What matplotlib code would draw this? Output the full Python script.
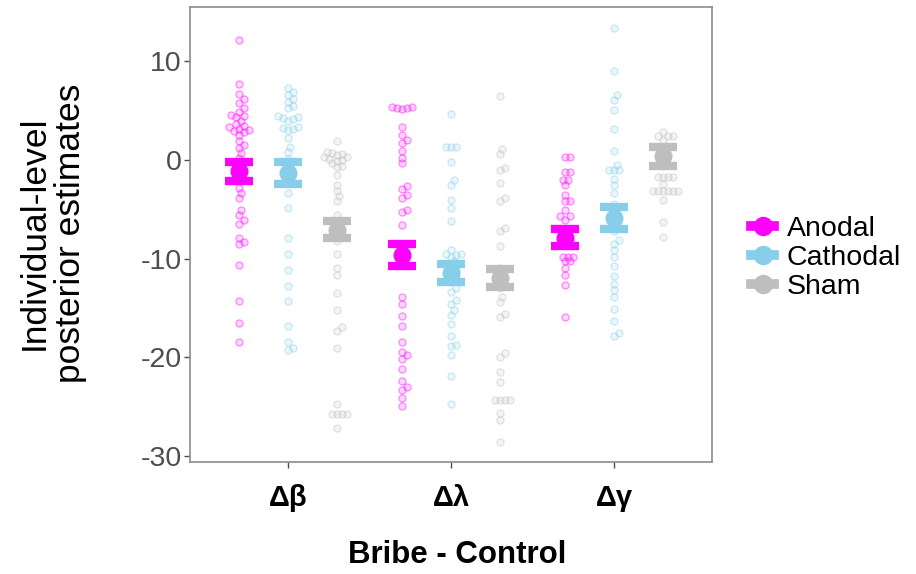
import matplotlib
matplotlib.use('Agg')
import matplotlib.pyplot as plt
from matplotlib.lines import Line2D
import numpy as np

plt.rcParams['font.family'] = ['Liberation Sans', 'DejaVu Sans']

# ---- data ----
params = ['Δβ', 'Δλ', 'Δγ']
groups = ['Anodal', 'Cathodal', 'Sham']
colors = {'Anodal': '#FF00FF', 'Cathodal': '#87CEEB', 'Sham': '#BEBEBE'}

anodal_beta = [12.2, 7.7, 6.7, 6.2, 5.8, 5.3, 4.9, 4.6, 4.4, 4.3, 3.9, 3.6, 3.4, 3.3, 3.1,
               3.0, 2.9, 2.8, 2.5, 1.9, 1.5, 1.2, 0.7, 0.2, -0.4, -0.9, -1.5, -2.0,
               -2.9, -3.4, -3.9, -5.1, -5.6, -6.1, -6.5, -7.9, -8.3, -8.5, -10.7,
               -14.3, -16.5, -18.5]
cathodal_beta = [7.3, 6.9, 6.6, 6.2, 5.9, 5.5, 5.3, 4.4, 4.3, 4.2, 4.1, 3.9, 3.3, 3.2,
                 3.1, 3.0, 2.2, 1.3, 0.8, 0.1, -0.6, -1.4, -2.1, -3.4, -4.9, -7.9,
                 -9.5, -11.2, -12.8, -14.3, -16.8, -18.5, -19.1, -19.3]
sham_beta = [1.96, 0.8, 0.7, 0.6, 0.5, 0.33, 0.3, 0.1, 0.0, -0.1, -0.34, -0.6, -0.7,
             -1.5, -2.5, -3.2, -3.7, -4.2, -5.6, -6.6, -7.5, -8.2, -9.5, -11.0, -11.7,
             -13.5, -15.2, -16.9, -17.3, -19.1, -24.7, -25.8, -25.8, -25.8, -25.8,
             -27.2]

anodal_lambda = [5.35, 5.35, 5.3, 5.3, 5.15, 3.3, 2.5, 2.0, 1.76, 0.85, 0.2, -0.34,
                 -2.6, -3.0, -3.56, -3.9, -5.1, -5.25, -6.6, -9.0, -10.2, -13.9,
                 -14.6, -15.8, -16.8, -18.5, -19.5, -19.8, -20.2, -21.2, -22.4,
                 -23.0, -23.3, -24.1, -25.0]
cathodal_lambda = [4.7, 1.3, 1.3, 1.3, -0.25, -2.0, -2.5, -4.1, -4.9, -6.2, -9.1,
                   -9.5, -9.5, -9.6, -9.8, -10.3, -10.8, -11.2, -11.6, -12.0, -12.4,
                   -13.0, -13.4, -14.2, -14.6, -15.2, -15.7, -16.6, -17.9, -18.8,
                   -18.9, -19.8, -21.9, -24.7]
sham_lambda = [6.5, 1.1, 0.6, -0.85, -1.0, -2.3, -3.9, -4.2, -6.9, -7.2, -8.7, -11.0,
               -12.3, -13.0, -13.9, -14.4, -15.6, -15.9, -19.6, -20.0, -21.5, -22.5,
               -24.3, -24.3, -24.3, -24.3, -25.7, -26.4, -28.6]

anodal_gamma = [0.34, 0.34, -1.2, -1.2, -2.0, -2.0, -2.5, -3.6, -4.2, -4.2, -5.07,
                -5.7, -5.7, -6.1, -7.0, -7.6, -8.3, -9.8, -9.8, -9.8, -10.3, -10.3,
                -11.0, -11.7, -12.7, -15.9]
cathodal_gamma = [13.4, 8.97, 6.6, 6.1, 5.1, 3.1, 0.85, -0.5, -1.0, -1.0, -1.0, -1.9,
                  -2.5, -3.4, -4.5, -5.5, -6.4, -7.2, -8.1, -8.5, -9.1, -9.8, -10.8,
                  -11.8, -12.6, -13.2, -13.9, -15.1, -16.3, -17.6, -17.9]
sham_gamma = [2.8, 2.4, 2.4, 2.4, 2.0, 1.2, 0.6, 0.0, -0.6, -1.7, -1.7, -1.7, -1.7,
              -2.4, -3.2, -3.2, -3.2, -3.2, -3.2, -3.2, -4.1, -6.3, -7.8]

individual = {
    ('Δβ', 'Anodal'): anodal_beta, ('Δβ', 'Cathodal'): cathodal_beta, ('Δβ', 'Sham'): sham_beta,
    ('Δλ', 'Anodal'): anodal_lambda, ('Δλ', 'Cathodal'): cathodal_lambda, ('Δλ', 'Sham'): sham_lambda,
    ('Δγ', 'Anodal'): anodal_gamma, ('Δγ', 'Cathodal'): cathodal_gamma, ('Δγ', 'Sham'): sham_gamma,
}

# group-level estimates: rows = params, cols = Anodal, Cathodal, Sham
group_mean = [[-1.17, -1.3, -7.1], [-9.64, -11.5, -12.0], [-7.9, -5.9, 0.38]]
group_low = [[-2.15, -2.4, -7.97], [-10.8, -12.4, -12.9], [-8.7, -7.0, -0.6]]
group_high = [[-0.2, -0.25, -6.2], [-8.5, -10.6, -11.1], [-7.0, -4.75, 1.35]]

# ---- figure ----
fig = plt.figure(figsize=(9.16, 5.74), dpi=100)
ax = fig.add_axes([190 / 916, 1 - 461.7 / 574, 522 / 916, 454.7 / 574])
ax.set_xlim(0.4, 3.6)
ax.set_ylim(-30.6, 15.5)

dodge = 0.3
ax_w_px = 522.0
ax_h_px = 454.7
px_x = ax_w_px / 3.2
px_y = ax_h_px / 46.1


def swarm_offsets(vals, d_px=5.0):
    # simple beeswarm: nudge sideways until no overlap with placed points
    vals = np.asarray(vals, dtype=float)
    order = np.argsort(vals)
    placed = []
    offs = np.zeros(len(vals))
    step = d_px / 2.0
    for i in order:
        yp = vals[i] * px_y
        k = 0
        while True:
            cands = [0.0] if k == 0 else [k * step, -k * step]
            ok = None
            for c in cands:
                if all((c - px) ** 2 + (yp - py) ** 2 >= d_px ** 2 for px, py in placed):
                    ok = c
                    break
            if ok is not None:
                placed.append((ok, yp))
                offs[i] = ok / px_x
                break
            k += 1
    return offs


for i, p in enumerate(params):
    for j, g in enumerate(groups):
        xc = i + 1 + (j - 1) * dodge
        vals = individual[(p, g)]
        xo = swarm_offsets(vals)
        c = matplotlib.colors.to_rgb(colors[g])
        ax.scatter(xc + xo, vals, s=26, facecolor=c + (0.16,), edgecolor=c + (0.42,),
                   linewidth=0.9, zorder=2)

for i, p in enumerate(params):
    for j, g in enumerate(groups):
        xc = i + 1 + (j - 1) * dodge
        m = group_mean[i][j]
        lo = group_low[i][j]
        hi = group_high[i][j]
        ax.errorbar([xc], [m], yerr=[[m - lo], [hi - m]], fmt='o', color=colors[g],
                    markersize=12, elinewidth=6, capsize=10, capthick=6, zorder=3)

# axes style
for s in ax.spines.values():
    s.set_color('#8C8C8C')
    s.set_linewidth(1.2)
ax.set_yticks([10, 0, -10, -20, -30])
ax.set_yticklabels(['10', '0', '-10', '-20', '-30'])
ax.set_xticks([1, 2, 3])
ax.set_xticklabels(params, fontweight='bold', fontsize=21, color='black')
ax.tick_params(axis='y', labelsize=20.5, labelcolor='#4D4D4D', color='#4D4D4D',
               length=4, width=1, pad=2)
ax.tick_params(axis='x', color='#4D4D4D', length=4, width=1, pad=12)

fig.text(52 / 916, 1 - 233 / 574, 'Individual-level\nposterior estimates', rotation=90,
         ha='center', va='center', fontsize=25.5, multialignment='center', linespacing=1.12)
fig.text(457 / 916, 1 - 555 / 574, 'Bribe - Control', ha='center', va='center',
         fontsize=22.5, fontweight='bold')

handles = [Line2D([0], [0], color=colors[g], lw=7, marker='o', markersize=13) for g in groups]
fig.legend(handles, groups, loc='center left', bbox_to_anchor=(740 / 916, 1 - 258 / 574),
           frameon=False, fontsize=20.5, handlelength=0.8, handletextpad=0.45,
           labelspacing=0.1, borderaxespad=0)

fig.savefig('out.png', dpi=100)
